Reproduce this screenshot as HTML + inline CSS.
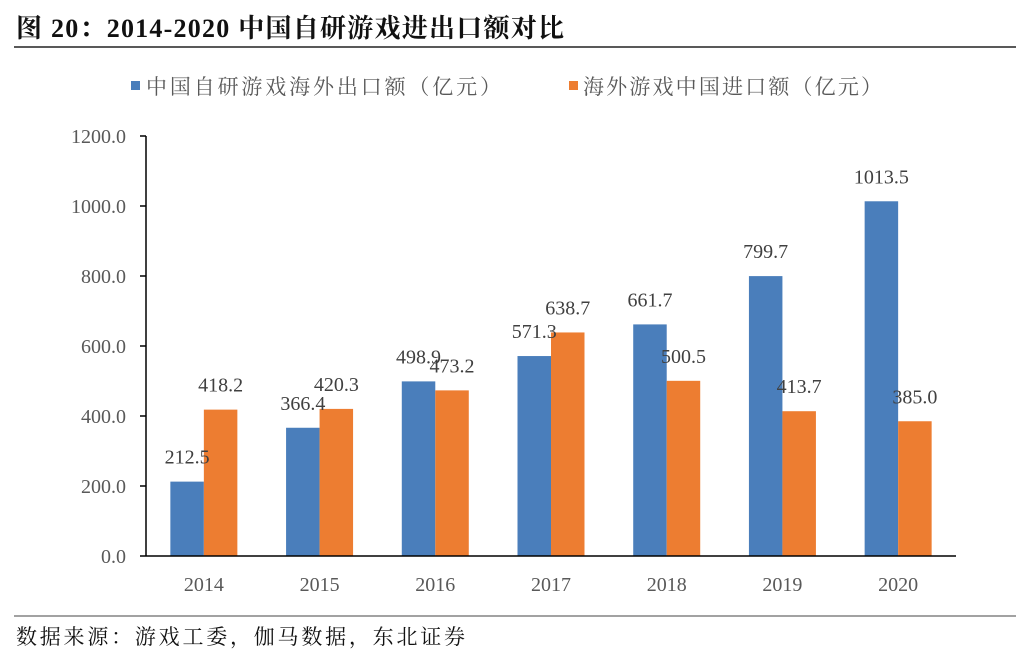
<!DOCTYPE html>
<html><head><meta charset="utf-8"><style>
body{margin:0;background:#fff;width:1034px;height:654px;overflow:hidden}
svg{display:block}
text{font-family:"Liberation Serif","Noto Serif CJK SC",serif}
</style></head><body>
<svg width="1034" height="654">
<text x="16" y="37" font-size="26" font-weight="bold" fill="#111" textLength="548" lengthAdjust="spacing">图 20：2014-2020 中国自研游戏进出口额对比</text>
<line x1="14" y1="47" x2="1016" y2="47" stroke="#222" stroke-width="1.5"/>
<rect x="131" y="81" width="9" height="9" fill="#4a7ebb"/>
<text x="146" y="94" font-size="21" fill="#595959" textLength="355" lengthAdjust="spacing">中国自研游戏海外出口额（亿元）</text>
<rect x="569" y="81" width="9" height="9" fill="#ed7d31"/>
<text x="583" y="94" font-size="21" fill="#595959" textLength="299" lengthAdjust="spacing">海外游戏中国进口额（亿元）</text>
<g id="plot"></g>
<line x1="14" y1="616" x2="1016" y2="616" stroke="#444" stroke-width="1"/>
<text x="16" y="644" font-size="21" fill="#111" textLength="449" lengthAdjust="spacing">数据来源：游戏工委，伽马数据，东北证券</text>
</svg>
<script>
const categories=["2014","2015","2016","2017","2018","2019","2020"];
const exportVals=[212.5,366.4,498.9,571.3,661.7,799.7,1013.5];
const importVals=[418.2,420.3,473.2,638.7,500.5,413.7,385.0];
const yTicks=[0,200,400,600,800,1000,1200];
const NS="http://www.w3.org/2000/svg";
const g=document.getElementById('plot');
const x0=146,x1=956,y0=556,ymax=1200,ph=420;
const band=(x1-x0)/categories.length,bw=33.5;
const y=v=>y0-v/ymax*ph;
const xc=i=>x0+band*(i+0.5);
function el(t,a){const e=document.createElementNS(NS,t);for(const k in a)e.setAttribute(k,a[k]);g.appendChild(e);return e;}
yTicks.forEach(v=>{
 const t=el('line',{x1:x0-6,x2:x0,y1:y(v),y2:y(v),stroke:'#000','stroke-width':1.5});
 
 
 const l=el('text',{x:x0-20,y:y(v)+7,'font-size':20,fill:'#595959','text-anchor':'end'});
 l.textContent=v.toFixed(1);
 
 
});
categories.forEach((c,i)=>{
 const cx=xc(i);
 const b=el('rect',{x:cx-bw,y:y(exportVals[i]),width:bw,height:y0-y(exportVals[i]),fill:'#4a7ebb'});
 
 
 const o=el('rect',{x:cx,y:y(importVals[i]),width:bw,height:y0-y(importVals[i]),fill:'#ed7d31'});
 
 
 const lb=el('text',{x:cx-bw/2,y:y(exportVals[i])-18,'font-size':20,fill:'#404040','text-anchor':'middle'});
 lb.textContent=exportVals[i].toFixed(1);
 
 
 const lo=el('text',{x:cx+bw/2,y:y(importVals[i])-18,'font-size':20,fill:'#404040','text-anchor':'middle'});
 lo.textContent=importVals[i].toFixed(1);
 
 
 const xl=el('text',{x:cx,y:y0+35,'font-size':20,fill:'#595959','text-anchor':'middle'});
 xl.textContent=c;
 
 
});
const ya=el('line',{x1:x0,x2:x0,y1:y(1200),y2:y0,stroke:'#000','stroke-width':1.5});


const xa=el('line',{x1:x0,x2:x1,y1:y0,y2:y0,stroke:'#000','stroke-width':1.5});


</script>
</body></html>
